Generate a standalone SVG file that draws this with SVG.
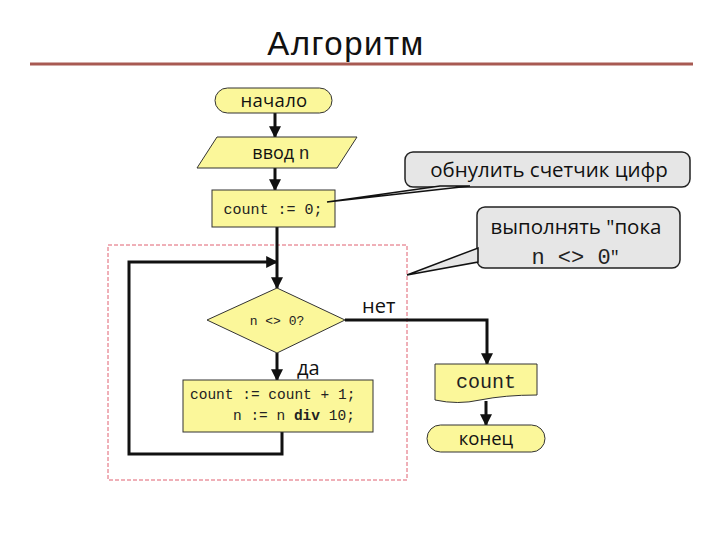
<svg xmlns="http://www.w3.org/2000/svg" width="720" height="540" viewBox="0 0 720 540">
<style>
.blk{fill:#fbf79a;stroke:#333;stroke-width:1}
.ln{fill:none;stroke:#111;stroke-width:3}
.call{fill:#e6e6e6;stroke:#222;stroke-width:1.5}
.t{font-family:"Open Sans","Noto Sans","Liberation Sans",sans-serif;fill:#111}
.m{font-family:"Liberation Mono","Courier New",monospace;fill:#222}
</style>
<defs>
<marker id="ah" viewBox="0 0 10 10" refX="9" refY="5" markerWidth="4" markerHeight="4" orient="auto" markerUnits="strokeWidth">
<path d="M0,0 L10,5 L0,10 z" fill="#111"/>
</marker>
</defs>
<rect width="720" height="540" fill="#fff"/>
<g id="title">
<text x="346" y="55" text-anchor="middle" font-family="Liberation Sans, Arial, sans-serif" font-size="33" letter-spacing="1.5" fill="#111">Алгоритм</text>
<line x1="30" y1="64" x2="693" y2="64" stroke="#a85a52" stroke-width="3"/>
</g>
<g id="loop-frame">
<rect x="108" y="245" width="299" height="235" fill="none" stroke="#e06070" stroke-width="1" stroke-dasharray="4,2"/>
</g>
<g id="connectors">
<line class="ln" x1="275" y1="113" x2="275" y2="137" marker-end="url(#ah)"/>
<line class="ln" x1="275" y1="168" x2="275" y2="190" marker-end="url(#ah)"/>
<line class="ln" x1="277" y1="227" x2="277" y2="288" marker-end="url(#ah)"/>
<polyline class="ln" points="282,432 282,454 129,454 129,262 277,262" marker-end="url(#ah)"/>
<line class="ln" x1="277" y1="353" x2="277" y2="380" marker-end="url(#ah)"/>
<polyline class="ln" points="345,320 487,320 487,364" marker-end="url(#ah)"/>
<line class="ln" x1="486" y1="401" x2="486" y2="425" marker-end="url(#ah)"/>
</g>
<g id="start">
<rect class="blk" x="215" y="88" width="117" height="25" rx="12.5"/>
<text class="t" x="274" y="107" text-anchor="middle" font-size="18.5" letter-spacing="0.3">начало</text>
</g>
<g id="input">
<polygon class="blk" points="217,137 357,137 337,168 197,168"/>
<text x="281" y="159" text-anchor="middle"><tspan class="t" font-size="18">ввод </tspan><tspan class="m" font-size="18">n</tspan></text>
</g>
<g id="init">
<rect class="blk" x="212" y="190" width="123" height="37"/>
<text class="m" x="273" y="214" text-anchor="middle" font-size="15">count := 0;</text>
</g>
<g id="cond">
<polygon class="blk" points="277,288 345,320 277,353 207,320"/>
<text class="m" x="277" y="325" text-anchor="middle" font-size="13">n &lt;&gt; 0?</text>
</g>
<g id="labels">
<text class="t" x="362" y="313" font-size="20">нет</text>
<text class="t" x="297" y="375" font-size="20">да</text>
</g>
<g id="body">
<rect class="blk" x="183" y="380" width="190" height="52"/>
<text class="m" x="190" y="399" font-size="14.5">count := count + 1;</text>
<text class="m" x="233" y="420" font-size="14.5">n := n <tspan font-weight="bold">div</tspan> 10;</text>
</g>
<g id="output">
<path class="blk" d="M435,364 H537 V395 Q505,395 480,400 Q458,405 435,400 Z"/>
<text class="m" x="486" y="388" text-anchor="middle" font-size="20">count</text>
</g>
<g id="end">
<rect class="blk" x="427" y="425" width="118" height="27" rx="13.5"/>
<text class="t" x="486" y="445" text-anchor="middle" font-size="18.5">конец</text>
</g>
<g id="callout1">
<rect class="call" x="405" y="152" width="285" height="35" rx="8"/>
<polygon points="327,202 440,186 470,186" fill="#e6e6e6" stroke="#111" stroke-width="1.5"/>
<text class="t" x="549" y="177" text-anchor="middle" font-size="20.5">обнулить счетчик цифр</text>
</g>
<g id="callout2">
<rect class="call" x="477" y="207" width="203" height="61" rx="8"/>
<polygon points="407,275 478,248 478,262" fill="#e6e6e6" stroke="#111" stroke-width="1.5"/>
<text class="t" x="576" y="234" text-anchor="middle" font-size="20.5">выполнять "пока</text>
<text x="575" y="264" text-anchor="middle"><tspan class="m" font-size="22">n &lt;&gt; 0</tspan><tspan class="t" font-size="20">"</tspan></text>
</g>
</svg>
